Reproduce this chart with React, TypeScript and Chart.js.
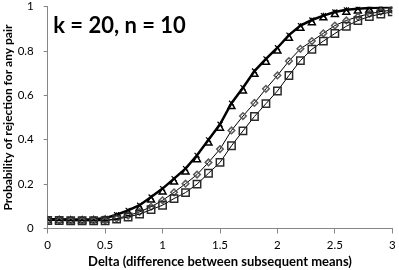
import React, { useEffect, useRef } from 'react';
import { Chart, registerables } from 'chart.js';

Chart.register(...registerables);

const deltas = [0, 0.1, 0.2, 0.3, 0.4, 0.5, 0.6, 0.7, 0.8, 0.9, 1.0, 1.1, 1.2, 1.3, 1.4, 1.5, 1.6, 1.7, 1.8, 1.9, 2.0, 2.1, 2.2, 2.3, 2.4, 2.5, 2.6, 2.7, 2.8, 2.9, 3.0];

const seriesCross = [0.042, 0.042, 0.041, 0.041, 0.042, 0.046, 0.062, 0.082, 0.105, 0.142, 0.18, 0.225, 0.27, 0.33, 0.4, 0.47, 0.565, 0.635, 0.71, 0.765, 0.815, 0.872, 0.915, 0.94, 0.96, 0.976, 0.986, 0.991, 0.994, 0.996, 0.997];
const seriesTriangle = [0.036, 0.036, 0.035, 0.035, 0.036, 0.038, 0.05, 0.068, 0.09, 0.128, 0.165, 0.21, 0.255, 0.31, 0.385, 0.452, 0.55, 0.62, 0.695, 0.75, 0.8, 0.858, 0.903, 0.928, 0.95, 0.965, 0.975, 0.981, 0.985, 0.988, 0.99];
const seriesDiamond = [0.036, 0.036, 0.035, 0.035, 0.035, 0.036, 0.045, 0.058, 0.075, 0.098, 0.127, 0.163, 0.202, 0.243, 0.298, 0.358, 0.442, 0.507, 0.566, 0.63, 0.69, 0.755, 0.81, 0.845, 0.88, 0.915, 0.938, 0.955, 0.968, 0.978, 0.985];
const seriesSquare = [0.036, 0.036, 0.035, 0.035, 0.035, 0.035, 0.042, 0.052, 0.065, 0.085, 0.105, 0.135, 0.162, 0.2, 0.249, 0.298, 0.373, 0.44, 0.505, 0.563, 0.62, 0.69, 0.757, 0.808, 0.845, 0.879, 0.912, 0.937, 0.956, 0.967, 0.977];

const xTicks = [0, 0.5, 1, 1.5, 2, 2.5, 3];
const yTicks = [0, 0.2, 0.4, 0.6, 0.8, 1];

const annotationText = 'k = 20, n = 10';
const xTitle = 'Delta (difference between subsequent means)';
const yTitle = 'Probability of rejection for any pair';

const FONT = 'Lato, "Open Sans", "DejaVu Sans", sans-serif';
const AXIS_COLOR = '#868686';

const annotationPlugin = {
  id: 'annotationText',
  afterDraw(chart: any) {
    const { ctx, chartArea } = chart;
    ctx.save();
    ctx.font = `bold 22px ${FONT}`;
    ctx.fillStyle = '#000';
    ctx.textAlign = 'left';
    ctx.textBaseline = 'alphabetic';
    ctx.fillText(annotationText, chartArea.left + 5.5, chartArea.top + 26);
    ctx.restore();
  },
};

function toPoints(values: number[]) {
  return deltas.map((d, i) => ({ x: d, y: values[i] }));
}

export default function App() {
  const canvasRef = useRef<HTMLCanvasElement | null>(null);

  useEffect(() => {
    document.body.style.margin = '0';
    const canvas = canvasRef.current;
    if (!canvas) return;
    const tickFont = { family: FONT, size: 11.5 };
    const chart = new Chart(canvas, {
      type: 'line',
      data: {
        datasets: [
          {
            label: 'square',
            data: toPoints(seriesSquare),
            borderColor: '#000',
            borderWidth: 1,
            pointStyle: 'rect',
            pointRadius: 5.2,
            pointBorderColor: '#2a2a2a',
            pointBorderWidth: 1.5,
            pointBackgroundColor: 'rgba(0,0,0,0)',
            tension: 0,
          },
          {
            label: 'diamond',
            data: toPoints(seriesDiamond),
            borderColor: '#000',
            borderWidth: 1,
            pointStyle: 'rectRot',
            pointRadius: 3.3,
            pointBorderColor: '#5a5a5a',
            pointBorderWidth: 1.5,
            pointBackgroundColor: 'rgba(0,0,0,0)',
            tension: 0,
          },
          {
            label: 'triangle',
            data: toPoints(seriesTriangle),
            borderColor: '#000',
            borderWidth: 0,
            showLine: false,
            pointStyle: 'triangle',
            pointRadius: 4,
            pointBorderColor: '#000',
            pointBorderWidth: 1.5,
            pointBackgroundColor: 'rgba(0,0,0,0)',
            tension: 0,
          },
          {
            label: 'cross',
            data: toPoints(seriesCross),
            borderColor: '#000',
            borderWidth: 2.5,
            pointStyle: 'crossRot',
            pointRadius: 3.5,
            pointBorderColor: '#000',
            pointBorderWidth: 1.2,
            tension: 0,
          },
        ],
      },
      options: {
        responsive: false,
        animation: false,
        layout: { padding: { left: 0, right: 4, top: 4.5, bottom: 0 } },
        plugins: {
          legend: { display: false },
          tooltip: { enabled: false },
          title: { display: false },
        },
        scales: {
          x: {
            type: 'linear',
            min: 0,
            max: 3,
            afterBuildTicks: (scale: any) => {
              scale.ticks = xTicks.map((v) => ({ value: v }));
            },
            afterFit: (scale: any) => {
              scale.height = 41.5;
              scale.paddingLeft = 0;
              scale.paddingRight = 0;
            },
            grid: {
              display: true,
              drawOnChartArea: false,
              drawTicks: true,
              tickLength: 5,
              color: AXIS_COLOR,
            },
            border: { display: true, color: AXIS_COLOR, width: 1 },
            ticks: {
              font: tickFont,
              color: '#000',
              padding: 5,
              maxRotation: 0,
              autoSkip: false,
              callback: (v: any) => String(v),
            },
            title: {
              display: true,
              text: xTitle,
              font: { family: FONT, size: 13, weight: 'bold' as const },
              color: '#000',
              padding: { top: 0, bottom: 0 },
            },
          },
          y: {
            type: 'linear',
            min: 0,
            max: 1,
            afterBuildTicks: (scale: any) => {
              scale.ticks = yTicks.map((v) => ({ value: v }));
            },
            afterFit: (scale: any) => {
              scale.width = 47.7;
              scale.paddingTop = 0;
              scale.paddingBottom = 0;
            },
            grid: {
              display: true,
              drawOnChartArea: false,
              drawTicks: true,
              tickLength: 4,
              color: AXIS_COLOR,
            },
            border: { display: true, color: AXIS_COLOR, width: 1 },
            ticks: {
              font: tickFont,
              color: '#000',
              padding: 10,
              autoSkip: false,
              callback: (v: any) => String(v),
            },
            title: {
              display: true,
              text: yTitle,
              font: { family: FONT, size: 12, weight: 'bold' as const },
              color: '#000',
              padding: { top: 0.5, bottom: 0 },
            },
          },
        },
      },
      plugins: [annotationPlugin],
    });
    return () => chart.destroy();
  }, []);

  return (
    <div style={{ width: 399, height: 270 }}>
      <canvas ref={canvasRef} width={399} height={270} style={{ display: 'block' }} />
    </div>
  );
}
